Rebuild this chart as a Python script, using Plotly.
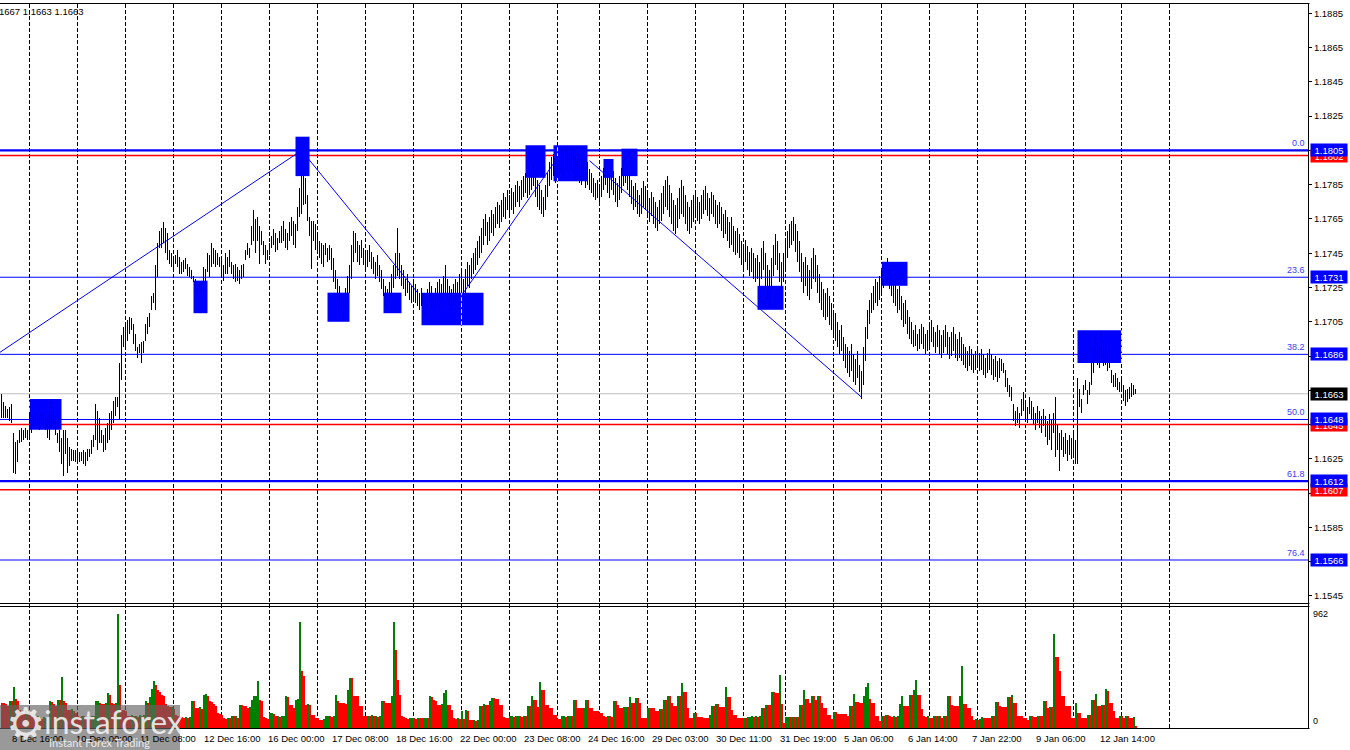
import plotly.graph_objects as go

W, H = 1350, 750

# ---------------- data ----------------
# H1 bars, high / low in 1e-4 price units (11663 -> 1.1663)
HIGH = [
 11663,11658,11656,11654,11655,11657,11640,11635,11636,11642,  # 0
 11643,11642,11643,11642,11652,11649,11650,11651,11649,11649,  # 10
 11651,11651,11649,11649,11653,11658,11653,11649,11640,11642,  # 20
 11637,11642,11642,11637,11632,11631,11630,11630,11629,11629,  # 30
 11629,11630,11629,11631,11631,11636,11639,11657,11653,11649,  # 40
 11642,11639,11643,11646,11652,11653,11659,11661,11661,11681,  # 50
 11697,11702,11704,11706,11708,11707,11704,11698,11690,11692,  # 60
 11693,11694,11704,11708,11710,11720,11722,11738,11751,11758,  # 70
 11760,11763,11760,11757,11747,11745,11743,11744,11747,11743,  # 80
 11740,11741,11742,11739,11737,11735,11732,11730,11729,11728,  # 90
 11729,11737,11736,11745,11744,11751,11748,11747,11745,11743,  # 100
 11742,11738,11745,11743,11747,11740,11738,11739,11737,11735,  # 110
 11738,11739,11747,11751,11748,11761,11770,11765,11766,11761,  # 120
 11758,11752,11750,11747,11751,11755,11759,11757,11754,11758,  # 130
 11761,11764,11759,11757,11763,11766,11764,11762,11772,11783,  # 140
 11804,11796,11789,11779,11766,11764,11764,11762,11755,11752,  # 150
 11751,11750,11751,11748,11750,11748,11742,11735,11730,11726,  # 160
 11722,11720,11725,11732,11738,11750,11758,11757,11752,11750,  # 170
 11753,11748,11745,11747,11750,11746,11743,11740,11744,11738,  # 180
 11735,11730,11726,11724,11728,11733,11738,11745,11760,11745,  # 190
 11738,11735,11730,11733,11728,11726,11730,11727,11724,11722,  # 200
 11725,11722,11720,11724,11728,11726,11722,11725,11728,11730,  # 210
 11727,11732,11738,11730,11726,11724,11727,11730,11728,11733,  # 220
 11735,11730,11736,11740,11738,11742,11745,11748,11752,11755,  # 230
 11760,11765,11768,11763,11766,11770,11768,11772,11775,11773,  # 240
 11776,11780,11778,11782,11779,11783,11781,11785,11787,11784,  # 250
 11788,11790,11792,11789,11791,11795,11797,11793,11788,11785,  # 260
 11782,11778,11785,11792,11798,11801,11803,11799,11802,11804,  # 270
 11806,11804,11807,11805,11803,11806,11804,11801,11803,11800,  # 280
 11797,11799,11796,11798,11794,11792,11789,11786,11788,11785,  # 290
 11790,11795,11798,11794,11791,11796,11793,11789,11786,11790,  # 300
 11795,11799,11801,11797,11792,11788,11784,11786,11782,11779,  # 310
 11783,11787,11784,11780,11777,11781,11778,11775,11772,11776,  # 320
 11780,11784,11788,11790,11785,11780,11776,11773,11777,11783,  # 330
 11788,11784,11779,11775,11772,11776,11779,11782,11778,11775,  # 340
 11779,11782,11784,11780,11777,11781,11779,11776,11773,11775,  # 350
 11772,11768,11770,11766,11763,11766,11761,11758,11760,11756,  # 360
 11752,11750,11753,11749,11746,11748,11745,11742,11744,11740,  # 370
 11748,11752,11745,11738,11735,11742,11750,11756,11752,11745,  # 380
 11740,11745,11752,11758,11762,11764,11766,11762,11758,11752,  # 390
 11745,11740,11743,11738,11735,11742,11748,11744,11738,11733,  # 400
 11728,11724,11722,11725,11720,11716,11712,11710,11705,11700,  # 410
 11703,11696,11692,11690,11688,11692,11686,11683,11688,11680,  # 420
 11676,11690,11702,11712,11718,11722,11726,11730,11728,11732,  # 430
 11735,11738,11740,11742,11736,11732,11728,11730,11724,11726,  # 440
 11720,11716,11718,11712,11708,11705,11700,11703,11698,11701,  # 450
 11704,11702,11698,11700,11703,11706,11702,11699,11703,11700,  # 460
 11697,11700,11703,11699,11696,11699,11702,11698,11695,11699,  # 470
 11696,11692,11690,11688,11691,11689,11686,11688,11690,11687,  # 480
 11689,11686,11684,11687,11689,11686,11683,11685,11682,11684,  # 490
 11683,11681,11677,11672,11668,11667,11657,11653,11655,11652,  # 500
 11660,11664,11658,11655,11661,11659,11655,11652,11656,11653,  # 510
 11650,11654,11650,11647,11651,11648,11652,11661,11645,11640,  # 520
 11642,11638,11640,11636,11639,11637,11640,11636,11672,11666,  # 530
 11660,11668,11671,11665,11670,11681,11690,11696,11693,11690,  # 540
 11699,11694,11692,11688,11690,11677,11674,11675,11672,11670,  # 550
 11673,11668,11665,11666,11667,11669,11668,11666,              # 560
]
LOW = [
 11649,11649,11649,11649,11647,11646,11617,11616,11623,11634,  # 0
 11635,11636,11637,11636,11637,11640,11643,11645,11645,11642,  # 10
 11645,11645,11642,11637,11636,11643,11645,11639,11634,11629,  # 20
 11622,11615,11628,11617,11621,11624,11624,11623,11623,11623,  # 30
 11624,11622,11621,11624,11626,11628,11632,11636,11630,11634,  # 40
 11634,11629,11630,11634,11636,11642,11646,11650,11655,11648,  # 50
 11671,11690,11691,11694,11698,11700,11692,11688,11684,11687,  # 60
 11681,11687,11694,11698,11702,11712,11716,11712,11731,11748,  # 70
 11748,11751,11745,11741,11739,11737,11735,11739,11737,11733,  # 80
 11733,11734,11736,11732,11731,11730,11728,11725,11722,11725,  # 90
 11722,11729,11727,11734,11731,11737,11739,11737,11738,11737,  # 100
 11731,11729,11733,11733,11737,11733,11730,11728,11729,11727,  # 110
 11730,11731,11741,11744,11742,11750,11752,11745,11752,11739,  # 120
 11750,11744,11739,11741,11744,11748,11750,11746,11747,11751,  # 130
 11751,11752,11748,11747,11752,11755,11750,11748,11758,11766,  # 140
 11768,11773,11774,11764,11755,11736,11752,11747,11747,11742,  # 150
 11739,11737,11744,11740,11741,11735,11728,11724,11718,11714,  # 160
 11710,11706,11712,11716,11722,11730,11740,11745,11740,11738,  # 170
 11742,11738,11735,11737,11740,11736,11733,11730,11732,11728,  # 180
 11724,11720,11714,11712,11716,11720,11725,11730,11732,11730,  # 190
 11726,11724,11720,11722,11718,11716,11719,11716,11714,11712,  # 200
 11714,11710,11708,11712,11716,11713,11710,11712,11716,11718,  # 210
 11715,11718,11720,11717,11714,11712,11715,11718,11716,11720,  # 220
 11722,11718,11722,11726,11725,11730,11733,11735,11738,11742,  # 230
 11745,11750,11755,11750,11752,11757,11755,11760,11762,11760,  # 240
 11763,11766,11765,11770,11767,11770,11768,11772,11775,11772,  # 250
 11776,11778,11780,11777,11779,11782,11784,11778,11772,11770,  # 260
 11768,11766,11770,11778,11784,11788,11790,11786,11789,11791,  # 270
 11792,11790,11795,11793,11790,11794,11791,11788,11790,11786,  # 280
 11785,11787,11783,11785,11782,11780,11778,11776,11777,11775,  # 290
 11778,11782,11785,11780,11777,11782,11779,11775,11772,11776,  # 300
 11780,11784,11786,11782,11778,11774,11770,11772,11768,11766,  # 310
 11768,11772,11770,11766,11763,11767,11762,11760,11758,11762,  # 320
 11764,11768,11772,11770,11766,11762,11758,11756,11760,11765,  # 330
 11768,11766,11762,11758,11756,11760,11763,11766,11764,11762,  # 340
 11765,11768,11770,11767,11764,11768,11766,11762,11760,11762,  # 350
 11758,11754,11756,11752,11748,11750,11746,11744,11745,11742,  # 360
 11738,11736,11740,11735,11732,11734,11730,11728,11730,11726,  # 370
 11730,11735,11725,11718,11714,11722,11732,11738,11735,11728,  # 380
 11724,11728,11735,11742,11748,11750,11752,11746,11740,11734,  # 390
 11728,11722,11726,11720,11718,11724,11730,11728,11722,11716,  # 400
 11712,11708,11706,11708,11703,11700,11697,11694,11690,11686,  # 410
 11688,11682,11678,11675,11673,11676,11670,11668,11672,11664,  # 420
 11660,11668,11682,11695,11704,11710,11712,11716,11714,11718,  # 430
 11722,11725,11728,11728,11724,11720,11716,11714,11710,11712,  # 440
 11706,11702,11704,11698,11695,11692,11690,11691,11688,11689,  # 450
 11692,11689,11686,11688,11690,11693,11690,11687,11690,11686,  # 460
 11684,11687,11690,11686,11683,11685,11688,11684,11682,11684,  # 470
 11682,11680,11678,11676,11679,11677,11675,11677,11678,11676,  # 480
 11677,11674,11672,11675,11677,11674,11671,11673,11670,11672,  # 490
 11676,11675,11667,11664,11661,11659,11647,11644,11646,11643,  # 500
 11650,11653,11648,11646,11651,11648,11645,11642,11646,11643,  # 510
 11640,11644,11638,11633,11636,11630,11640,11626,11630,11618,  # 520
 11630,11626,11628,11624,11627,11625,11628,11622,11622,11655,  # 530
 11652,11662,11665,11657,11662,11668,11675,11682,11680,11678,  # 540
 11683,11679,11680,11676,11678,11669,11667,11667,11665,11664,  # 550
 11666,11659,11656,11658,11660,11661,11662,11663,              # 560
]
VOLUME = [
 211,211,200,183,225,225,346,247,230,150,  # 0
 130,120,140,125,110,95,90,85,100,90,  # 10
 80,95,88,92,225,220,200,183,239,239,  # 20
 430,225,210,155,150,160,140,130,100,95,  # 30
 105,98,90,100,92,98,105,225,230,210,  # 40
 205,200,215,295,280,210,205,215,962,365,  # 50
 155,150,140,104,100,110,98,104,96,108,  # 60
 100,110,225,215,260,330,399,360,323,300,  # 70
 281,270,200,183,175,180,160,110,98,95,  # 80
 90,85,92,88,90,230,225,169,165,175,  # 90
 160,281,290,270,225,220,205,183,130,120,  # 100
 110,84,80,86,84,104,100,104,84,197,  # 110
 190,185,183,169,175,239,267,270,399,239,  # 120
 230,90,84,80,126,130,120,98,100,95,  # 130
 98,100,267,260,197,190,169,239,245,891,  # 140
 478,436,197,200,197,112,110,84,84,70,  # 150
 70,72,98,100,98,95,100,281,225,215,  # 160
 210,210,205,323,422,420,267,267,267,183,  # 170
 183,98,98,104,100,108,100,104,96,104,  # 180
 225,225,215,210,210,267,896,655,407,281,  # 190
 98,90,84,80,84,88,84,80,86,84,  # 200
 82,84,88,84,267,260,239,230,197,190,  # 210
 200,295,323,197,197,155,84,80,84,78,  # 220
 146,79,149,140,70,65,70,60,70,183,  # 230
 183,205,197,190,230,253,253,247,247,197,  # 240
 197,93,84,84,98,100,95,98,100,98,  # 250
 95,100,98,188,188,267,239,239,177,391,  # 260
 323,323,197,197,169,169,112,112,79,79,  # 270
 98,100,95,98,100,98,239,239,169,169,  # 280
 165,169,239,239,169,169,141,141,141,126,  # 290
 126,98,95,100,98,96,230,230,197,169,  # 300
 169,177,180,177,261,211,211,253,253,211,  # 310
 84,84,84,169,169,169,169,141,141,160,  # 320
 160,239,239,267,267,211,183,183,267,267,  # 330
 379,301,301,169,84,84,126,126,93,93,  # 340
 93,84,84,84,112,188,188,202,202,177,  # 350
 177,177,346,261,261,155,112,112,84,84,  # 360
 84,86,82,90,92,98,96,99,95,98,  # 370
 169,169,197,197,197,306,306,298,298,450,  # 380
 205,42,93,95,90,96,92,94,90,197,  # 390
 197,318,244,244,211,267,267,239,273,273,  # 400
 211,169,169,112,112,79,132,132,121,121,  # 410
 121,121,121,98,183,183,287,216,216,211,  # 420
 211,267,346,379,247,211,211,98,98,56,  # 430
 104,104,112,112,98,96,99,95,98,205,  # 440
 267,188,188,188,281,281,323,407,281,281,  # 450
 160,98,96,99,84,84,98,98,104,104,  # 460
 84,98,98,267,267,197,188,188,188,267,  # 470
 525,205,205,169,169,98,70,72,68,74,  # 480
 93,84,84,84,84,98,98,216,216,183,  # 490
 177,177,177,261,261,281,211,211,104,104,  # 500
 104,84,84,65,98,98,93,93,98,98,  # 510
 98,225,225,169,177,177,795,599,599,478,  # 520
 273,273,183,183,183,84,84,211,126,126,  # 530
 84,84,84,112,112,239,239,289,188,188,  # 540
 197,197,329,309,211,211,141,84,84,98,  # 550
 98,84,98,98,84,84,93,14,  # 560
]
LAST_PRICE = 1.1663
VOLUME_AXIS_MAX = 962

# bar index of each day start (grid) and of each time label
DAY_STARTS = [14, 38, 62, 86, 110, 134, 158, 182, 206, 230, 254, 278, 299,
              323, 347, 371, 392, 416, 440, 464, 488, 512, 536, 560, 584]
TIME_LABEL_BARS = [5, 37, 69, 101, 133, 165, 197, 229, 261, 293, 325, 357,
                   389, 421, 453, 485, 517, 549]
TIME_LABELS = ["8 Dec 16:00", "10 Dec 00:00", "11 Dec 08:00", "12 Dec 16:00",
               "16 Dec 00:00", "17 Dec 08:00", "18 Dec 16:00", "22 Dec 00:00",
               "23 Dec 08:00", "24 Dec 16:00", "29 Dec 03:00", "30 Dec 11:00",
               "31 Dec 19:00", "5 Jan 06:00", "6 Jan 14:00", "7 Jan 22:00",
               "9 Jan 06:00", "12 Jan 14:00"]

PRICE_TICKS = [1.1545, 1.1565, 1.1585, 1.1605, 1.1625, 1.1645, 1.1665, 1.1685,
               1.1705, 1.1725, 1.1745, 1.1765, 1.1785, 1.1805, 1.1825, 1.1845,
               1.1865, 1.1885]

FIB_NAMES = ["0.0", "23.6", "38.2", "50.0", "61.8", "76.4"]
FIB_PRICES = [1.1805, 1.1731, 1.1686, 1.1648, 1.1612, 1.1566]
FIB_THICK = [True, False, False, False, True, False]
RED_LEVELS = [1.1802, 1.1645, 1.1607]

# rectangles: (first bar, last bar, low price, high price)
RECT_BAR0 = [14, 96, 147, 163, 191, 210, 262, 276, 301, 310, 378, 440, 538]
RECT_BAR1 = [30, 103, 154, 174, 200, 241, 272, 293, 306, 318, 391, 453, 560]
RECT_LO = [1.1642, 1.1710, 1.1790, 1.1705, 1.1710, 1.1703, 1.1789, 1.1787,
           1.1789, 1.1790, 1.1712, 1.1726, 1.1681]
RECT_HI = [1.1660, 1.1729, 1.1813, 1.1722, 1.1722, 1.1722, 1.1808, 1.1808,
           1.1800, 1.1806, 1.1726, 1.1740, 1.1700]

# zigzag trend lines: (bar0, price0, bar1, price1)
TREND_B0 = [-1, 150, 231, 294]
TREND_P0 = [1.1687, 1.1805, 1.1722, 1.1799]
TREND_B1 = [150, 208, 277, 430]
TREND_P1 = [1.1805, 1.1722, 1.1799, 1.1661]

# ---------------- layout helpers ----------------
FONT = "Liberation Sans, Arial, sans-serif"
PLOT_R = 1308.5          # right edge of panes (px)
PRICE_TOP, PRICE_BOT = 3, 604
VOL_TOP, VOL_BOT = 607, 728


def fx(p):
    return p / W


def fy(p):
    return 1 - p / H


n = min(len(HIGH), len(LOW), len(VOLUME))
BLUE = "#0000ff"
RED = "#ff0000"

fig = go.Figure()

# price bars
bx, by = [], []
for i in range(n):
    bx += [i, i, None]
    by += [LOW[i] / 1e4, HIGH[i] / 1e4, None]
fig.add_trace(go.Scatter(x=bx, y=by, mode="lines", line=dict(color="black", width=1),
                         hoverinfo="skip", showlegend=False, xaxis="x", yaxis="y"))

# volume bars: green when volume rises, red otherwise
vcol = []
for i in range(n):
    vcol.append("#008000" if i > 0 and VOLUME[i] > VOLUME[i - 1] else RED)
fig.add_trace(go.Bar(x=list(range(n)), y=VOLUME[:n], marker=dict(color=vcol, line=dict(width=0)),
                     width=1.0, hoverinfo="skip", showlegend=False, xaxis="x2", yaxis="y2"))

shapes = []
# grid (day separators) across both panes
for d in DAY_STARTS:
    shapes.append(dict(type="line", xref="x", yref="paper", x0=d, x1=d,
                       y0=fy(VOL_BOT), y1=fy(PRICE_TOP), layer="below",
                       line=dict(color="black", width=1, dash="4px,2px")))
# rectangles
for b0, b1, lo, hi in zip(RECT_BAR0, RECT_BAR1, RECT_LO, RECT_HI):
    shapes.append(dict(type="rect", xref="x", yref="y", x0=b0, x1=b1, y0=lo, y1=hi,
                       fillcolor=BLUE, line=dict(width=0), layer="below"))
    for d in DAY_STARTS:
        if b0 <= d <= b1:
            shapes.append(dict(type="line", xref="x", yref="y", x0=d, x1=d, y0=lo, y1=hi,
                               layer="below", line=dict(color="#ffff00", width=1, dash="4px,2px")))
# current price line
shapes.append(dict(type="line", xref="paper", yref="y", x0=0, x1=fx(PLOT_R),
                   y0=LAST_PRICE, y1=LAST_PRICE, layer="below",
                   line=dict(color="#c0c0c0", width=1)))
# red levels
for p in RED_LEVELS:
    shapes.append(dict(type="line", xref="paper", yref="y", x0=0, x1=fx(PLOT_R),
                       y0=p, y1=p, layer="below", line=dict(color=RED, width=1.5)))
# fibonacci levels
for p, thick in zip(FIB_PRICES, FIB_THICK):
    shapes.append(dict(type="line", xref="paper", yref="y", x0=0, x1=fx(PLOT_R),
                       y0=p, y1=p, layer="below", line=dict(color=BLUE, width=2.2 if thick else 1)))
# trend lines
for b0, p0, b1, p1 in zip(TREND_B0, TREND_P0, TREND_B1, TREND_P1):
    shapes.append(dict(type="line", xref="x", yref="y", x0=b0, y0=p0, x1=b1, y1=p1,
                       layer="below", line=dict(color=BLUE, width=1)))
# pane borders
for yy in (PRICE_TOP + 0.5, PRICE_BOT - 0.5, VOL_TOP - 0.5, VOL_BOT + 0.5):
    shapes.append(dict(type="line", xref="paper", yref="paper", x0=0, x1=fx(PLOT_R + 1),
                       y0=fy(yy), y1=fy(yy), line=dict(color="black", width=1)))
shapes.append(dict(type="line", xref="paper", yref="paper", x0=fx(PLOT_R), x1=fx(PLOT_R),
                   y0=fy(VOL_BOT + 1), y1=fy(PRICE_TOP), line=dict(color="black", width=1)))
# logo plate
shapes.append(dict(type="rect", xref="paper", yref="paper", x0=0, x1=fx(180),
                   y0=0, y1=fy(705), fillcolor="rgba(100,100,100,0.66)", line=dict(width=0)))

ann = []
# level price boxes on the right axis
boxes = [(p, RED) for p in RED_LEVELS] + [(LAST_PRICE, "black")] + [(p, BLUE) for p in FIB_PRICES]
for p, c in boxes:
    ann.append(dict(x=fx(1310), xref="paper", y=p, yref="y", xanchor="left", yanchor="middle",
                    text="%.4f" % p, showarrow=False, bgcolor=c, width=34, height=10,
                    borderpad=1, font=dict(family=FONT, size=9.5, color="white")))
# fib level names
for name, p in zip(FIB_NAMES, FIB_PRICES):
    ann.append(dict(x=fx(1307), xref="paper", y=p, yref="y", xanchor="right", yanchor="bottom",
                    text=name, showarrow=False, font=dict(family=FONT, size=9, color="#3c3cff")))
# time labels
for b, t in zip(TIME_LABEL_BARS, TIME_LABELS):
    ann.append(dict(x=b, xref="x2", y=fy(738), yref="paper", xanchor="left", yanchor="middle",
                    text=t, showarrow=False, xshift=-2, font=dict(family=FONT, size=9.5, color="black")))
# volume scale
ann.append(dict(x=fx(1311), xref="paper", y=VOLUME_AXIS_MAX, yref="y2", xanchor="left",
                yanchor="middle", text=str(VOLUME_AXIS_MAX), showarrow=False,
                font=dict(family=FONT, size=9, color="black")))
ann.append(dict(x=fx(1311), xref="paper", y=0, yref="y2", xanchor="left", yanchor="bottom",
                text="0", showarrow=False, font=dict(family=FONT, size=9, color="black")))
# top-left info
ann.append(dict(x=0, xref="paper", y=fy(11), yref="paper", xanchor="left", yanchor="middle",
                text="1667 1.1663 1.1663", showarrow=False, xshift=-3,
                font=dict(family=FONT, size=9.5, color="black")))
# logo texts
ann.append(dict(x=fx(25), xref="paper", y=fy(723), yref="paper", xanchor="center", yanchor="middle",
                text="\u2699", showarrow=False, font=dict(family="DejaVu Sans", size=44,
                                                             color="rgba(245,245,245,0.85)")))
ann.append(dict(x=fx(42), xref="paper", y=fy(721), yref="paper", xanchor="left", yanchor="middle",
                text="instaforex", showarrow=False,
                font=dict(family="Lato, Liberation Sans, sans-serif", size=32,
                          color="rgba(245,245,245,0.9)")))
ann.append(dict(x=fx(47), xref="paper", y=fy(742), yref="paper", xanchor="left", yanchor="middle",
                text="Instant Forex Trading", showarrow=False,
                font=dict(family="Lato, Liberation Sans, sans-serif", size=11,
                          color="rgba(245,245,245,0.9)")))

p_top = 1.1885 + (13.3 - PRICE_TOP) / 17138
p_bot = 1.1885 - (PRICE_BOT - 13.3) / 17138
xr = [-0.75, -0.75 + 1308 / 2]

fig.update_layout(
    width=W, height=H, margin=dict(l=0, r=0, t=0, b=0),
    paper_bgcolor="white", plot_bgcolor="white", showlegend=False,
    bargap=0, hovermode=False,
    shapes=shapes, annotations=ann,
    xaxis=dict(domain=[0, fx(1308)], range=xr, showgrid=False, zeroline=False,
               showticklabels=False, ticks="", showline=False, anchor="y"),
    yaxis=dict(domain=[fy(PRICE_BOT), fy(PRICE_TOP)], range=[p_bot, p_top], side="right",
               anchor="x", showgrid=False, zeroline=False, showline=False,
               tickvals=PRICE_TICKS, ticktext=["%.4f" % t for t in PRICE_TICKS],
               ticks="outside", ticklen=3, tickwidth=1, tickcolor="black",
               tickfont=dict(family=FONT, size=9.5, color="black")),
    xaxis2=dict(domain=[0, fx(1308)], range=xr, showgrid=False, zeroline=False,
                showticklabels=False, ticks="", showline=False, anchor="y2"),
    yaxis2=dict(domain=[fy(VOL_BOT), fy(VOL_TOP)], range=[0, 1021], side="right", anchor="x2",
                showgrid=False, zeroline=False, showline=False, showticklabels=False, ticks=""),
)

POST = (
    "document.body.style.margin='0';document.body.style.padding='0';"
    "document.documentElement.style.overflow='hidden';document.body.style.overflow='hidden';"
    "document.querySelectorAll('.scatterlayer path.js-line').forEach(function(p){"
    "p.style.shapeRendering='crispEdges';});"
)
fig.write_html("out.html", post_script=POST, config={"displayModeBar": False})
